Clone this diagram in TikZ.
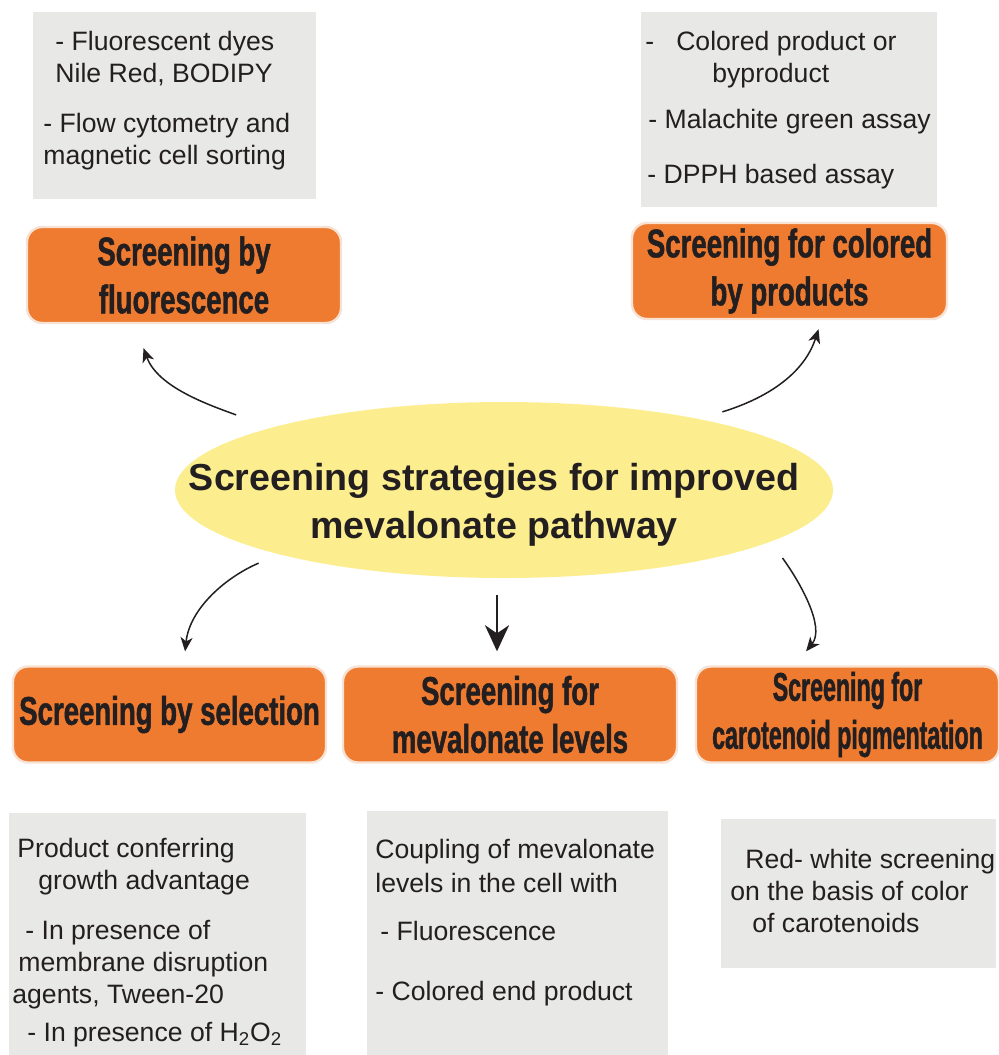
\documentclass[tikz,border=0pt]{standalone}
\usepackage{fontspec}
\setmainfont{Liberation Sans}
\newfontfamily\stagefont{Liberation Sans Bold}[FakeStretch=0.69,FakeBold=1.2]
\newfontfamily\tightstagefont{Liberation Sans Bold}[FakeStretch=0.58,FakeBold=1.2]
\usetikzlibrary{arrows.meta,shapes.geometric}
\definecolor{stageorange}{HTML}{EE7B30}
\definecolor{stagerim}{HTML}{F7E2D3}
\definecolor{notegray}{HTML}{E8E8E7}
\definecolor{hubyellow}{HTML}{FCEE8E}
\definecolor{ink}{HTML}{231F20}
\begin{document}
\begin{tikzpicture}[x=0.5pt, y=-0.5pt,
    stage/.style={rectangle, rounded corners=7.5pt, fill=stageorange, draw=stagerim,
      line width=1.2pt, text=ink, align=center, inner sep=0pt, minimum height=48pt,
      font=\stagefont\fontsize{20pt}{24pt}\selectfont},
    notebox/.style={rectangle, fill=notegray, inner sep=0pt},
    note/.style={anchor=base west, inner sep=0pt, text=ink,
      font=\fontsize{13.3pt}{16pt}\selectfont},
    hub/.style={ellipse, fill=hubyellow, minimum width=329pt, minimum height=88pt, inner sep=0pt},
    link/.style={-{Stealth[length=7pt,width=6pt,inset=2pt]}, line width=0.75pt, draw=ink},
    mainlink/.style={-{Stealth[length=13pt,width=12pt,inset=4pt]}, line width=1.3pt, draw=ink}]
  \fill[white, use as bounding box] (0,0) rectangle (999,1055);

  \node[notebox, minimum width=141.5pt, minimum height=93.5pt] (fluonotes) at (174.5,105.5) {};
  \node[notebox, minimum width=148pt, minimum height=97.5pt] (colornotes) at (789,109.5) {};
  \node[notebox, minimum width=148.5pt, minimum height=121pt] (selnotes) at (157.5,934) {};
  \node[notebox, minimum width=150.5pt, minimum height=122pt] (mevnotes) at (517.5,933) {};
  \node[notebox, minimum width=137.5pt, minimum height=74.5pt] (carnotes) at (858.5,893.5) {};

  \node[note] (fluotext) at (43,50) {\begin{tabular}[t]{@{}l@{}}
      \hspace*{6pt}- Fluorescent dyes\\
      \hspace*{6pt}Nile Red, BODIPY\\[9pt]
      - Flow cytometry and\\
      magnetic cell sorting
    \end{tabular}};
  \node[note] (colortext) at (645,50) {\begin{tabular}[t]{@{}l@{}}
      -\hspace*{11pt}Colored product or\\
      \hspace*{33.5pt}byproduct\\[7pt]
      \hspace*{1.5pt}- Malachite green assay\\[11.5pt]
      \hspace*{1pt}- DPPH based assay
    \end{tabular}};
  \node[note] (seltext) at (12,857) {\begin{tabular}[t]{@{}l@{}}
      \hspace*{2.5pt}Product conferring\\
      \hspace*{13pt}growth advantage\\[9pt]
      \hspace*{6.5pt}- In presence of\\
      \hspace*{3pt}membrane disruption\\
      agents, Tween-20\\[3pt]
      \hspace*{7.5pt}- In presence of H\textsubscript{2}O\textsubscript{2}
    \end{tabular}};
  \node[note] (mevtext) at (375,858) {\begin{tabular}[t]{@{}l@{}}
      Coupling of mevalonate\\[1pt]
      levels in the cell with\\[8pt]
      \hspace*{2.5pt}- Fluorescence\\[14pt]
      - Colored end product
    \end{tabular}};
  \node[note] (cartext) at (730,868) {\begin{tabular}[t]{@{}l@{}}
      \hspace*{7.5pt}Red- white screening\\
      on the basis of color\\
      \hspace*{11pt}of carotenoids
    \end{tabular}};

  \node[stage, minimum width=157pt] (fluo) at (184,275) {Screening by\\fluorescence};
  \node[stage, minimum width=157.5pt] (colored) at (789.5,271) {Screening for colored\\by products};
  \node[stage, minimum width=156.5pt] (select) at (169.5,714.5) {Screening by selection};
  \node[stage, minimum width=167pt] (mev) at (510,714.5) {Screening for\\mevalonate levels};
  \node[stage, minimum width=151.5pt, font=\tightstagefont\fontsize{20pt}{24pt}\selectfont]
    (carot) at (847.5,714.5) {Screening for\\carotenoid pigmentation};

  \node[hub] (hub) at (504,490) {};
  \node[anchor=base, inner sep=0pt, text=ink, font=\bfseries\fontsize{18.8pt}{24pt}\selectfont]
    (hubtitle) at (494,490) {\begin{tabular}[t]{@{}c@{}}
      Screening strategies for improved\\
      mevalonate pathway
    \end{tabular}};

  \draw[link, shorten <=18.5pt, shorten >=12.75pt] (hub.165) to[out=160, in=-70] (fluo.225);
  \draw[link, shorten <=12pt, shorten >=4.7pt] (hub.20) to[out=17, in=-108] (colored.-57);
  \draw[link, shorten <=11pt, shorten >=7pt] (hub.196) to[out=-157, in=84] (select.74);
  \draw[link, shorten <=10pt, shorten >=9pt] (hub.-11) to[out=-54, in=51] (carot.137);
  \coordinate (hubfoot) at ([xshift=-3.5pt]hub.south);
  \draw[mainlink, shorten <=8.5pt, shorten >=7pt] (hubfoot) -- (hubfoot |- mev.north);
\end{tikzpicture}
\end{document}
